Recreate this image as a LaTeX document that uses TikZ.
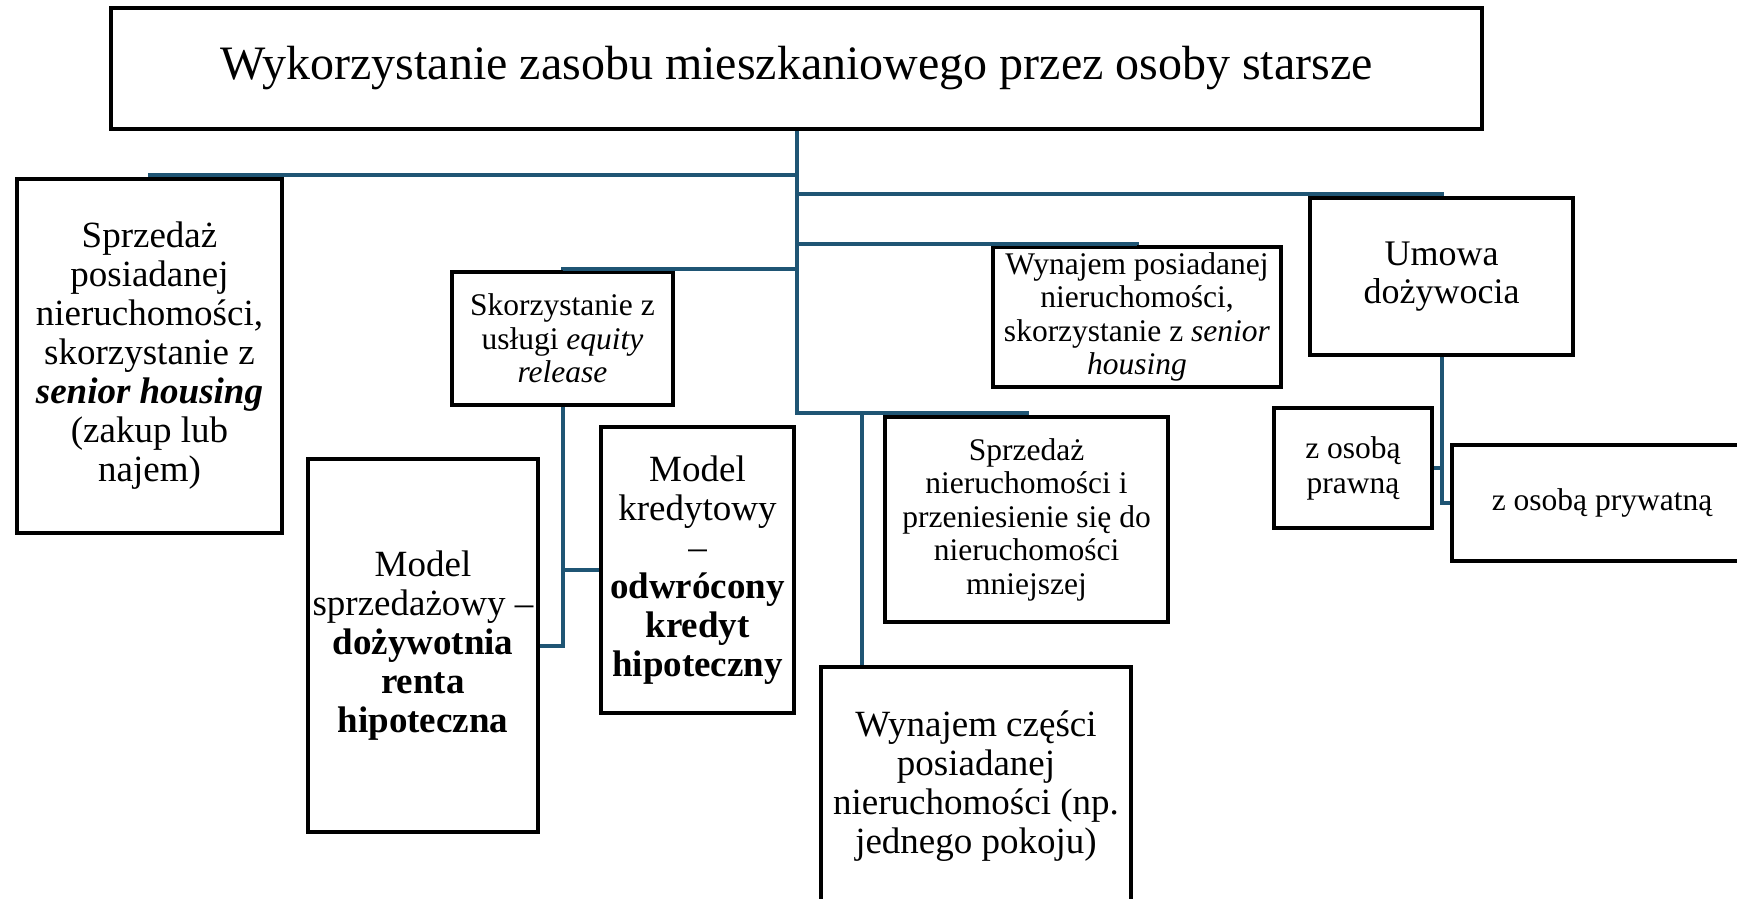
\documentclass[tikz,border=0pt]{standalone}
\usepackage{fontspec}
\setmainfont{Liberation Serif}
\usepackage{tikz}
\usepackage{xcolor}
\definecolor{link-blue}{HTML}{1F5574}
\tikzset{
    plain-box/.style = {draw=black, fill=white, line width=3.5pt, rectangle, inner sep=0pt, align=center},
    big-text/.style = {font=\fontsize{37}{39}\selectfont},
    small-text/.style = {font=\fontsize{31.5}{33.5}\selectfont},
    branch-line/.style = {draw=link-blue, line width=4pt},
}

\begin{document}
\begin{tikzpicture}[x=1pt,y=-1pt]
\clip (0,0) rectangle (1737,898);
\fill[white] (0,0) rectangle (1737,898);

\node [plain-box, font=\fontsize{48}{52}\selectfont, minimum width=1371pt, minimum height=121pt] (title) at (796.5,68.5)
    {Wykorzystanie zasobu mieszkaniowego przez osoby starsze};

% first level
\node [plain-box, big-text, minimum width=265pt, minimum height=354pt] (sale) at (149.5,356)
    {Sprzedaż\\posiadanej\\nieruchomości,\\skorzystanie z\\\textbf{\textit{senior housing}}\\(zakup lub\\najem)};
\node [plain-box, small-text, minimum width=221pt, minimum height=133pt] (equity) at (562.5,338.5)
    {Skorzystanie z\\usługi \textit{equity}\\\textit{release}};
\node [plain-box, small-text, minimum width=288pt, minimum height=140pt] (rent) at (1137,317)
    {Wynajem posiadanej\\nieruchomości,\\skorzystanie z \textit{senior}\\\textit{housing}};
\node [plain-box, font=\fontsize{36}{37.5}\selectfont, minimum width=263pt, minimum height=157pt] (annuity) at (1441.5,276.5)
    {Umowa\\dożywocia};
\node [plain-box, small-text, minimum width=283pt, minimum height=205pt] (smaller) at (1026.5,519.5)
    {Sprzedaż\\nieruchomości i\\przeniesienie się do\\nieruchomości\\mniejszej};
\node [plain-box, big-text, minimum width=310pt, minimum height=238pt] (part) at (976,786)
    {Wynajem części\\posiadanej\\nieruchomości (np.\\jednego pokoju)};

% equity release models
\node [plain-box, big-text, minimum width=230pt, minimum height=373pt] (salemodel) at (423,645.5)
    {Model\\sprzedażowy –\\\textbf{dożywotnia}\\\textbf{renta}\\\textbf{hipoteczna}};
\node [plain-box, big-text, minimum width=193pt, minimum height=286pt] (loanmodel) at (697.5,570)
    {Model\\kredytowy\\–\\\textbf{odwrócony}\\\textbf{kredyt}\\\textbf{hipoteczny}};

% annuity parties
\node [plain-box, font=\fontsize{31.5}{35}\selectfont, minimum width=158pt, minimum height=120pt] (legal) at (1353,468)
    {z osobą\\prawną};
\node [plain-box, small-text, minimum width=300pt, minimum height=116pt] (private) at (1602,503)
    {z osobą prywatną};

% connectors
\draw [branch-line] (title.south) -- ++(0,44) -| (sale.north);
\draw [branch-line] (title.south) -- ++(0,63) -| (annuity.north);
\draw [branch-line] (title.south) -- ++(0,113) -| (rent.north);
\draw [branch-line] (title.south) -- ++(0,138) -| (equity.north);
\draw [branch-line] (title.south) -- ++(0,282) -| (smaller.north);
\draw [branch-line] (title.south) ++(0,282) -| ([xshift=43pt]part.north west);
\draw [branch-line] (equity.south) |- (loanmodel.west);
\draw [branch-line] (equity.south) |- (salemodel.east);
\draw [branch-line] (annuity.south) |- (legal.east);
\draw [branch-line] (annuity.south) |- (private.west);
\end{tikzpicture}
\end{document}
